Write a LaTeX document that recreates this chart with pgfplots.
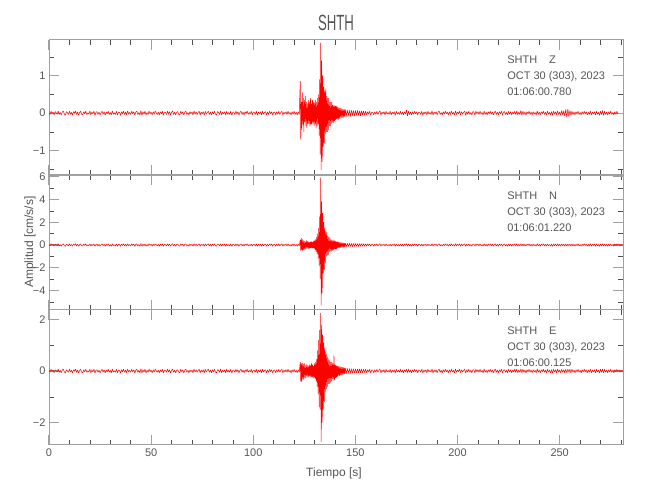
\documentclass[border=0pt]{standalone}
\usepackage{pgfplots}
\pgfplotsset{compat=1.18}
\usepackage{fontspec}
\setmainfont{Liberation Sans}
\newfontfamily\titlefont{Liberation Sans}[FakeStretch=0.6]
\definecolor{txt}{HTML}{555555}
\definecolor{frm}{HTML}{A0A0A0}
\definecolor{tk}{HTML}{505050}
\pgfplotsset{
 panel/.style={
  width=574pt,height=135pt,scale only axis,anchor=south west,
  xmin=0,xmax=281,
  axis line style={frm,line width=1pt},
  tick align=inside,
  major tick length=10pt, minor tick length=5pt,
  major tick style={frm,line width=1.2pt},
  minor tick style={tk,line width=0.5pt},
  xtick={0,50,...,250},
  minor xtick={10,20,30,40,60,70,80,90,110,120,130,140,160,170,180,190,210,220,230,240,260,270,280},
  ticklabel style={font=\fontsize{11}{13}\selectfont, text=txt},
  xticklabels={},
 },
}
\tikzset{
 trace/.style={red, line width=0.5pt, line join=bevel},
 info/.style={anchor=north west, align=left, inner sep=0pt, font=\fontsize{11}{16}\selectfont, text=txt},
}
\begin{document}
\begin{tikzpicture}
\path[use as bounding box] (0pt,0pt) rectangle (650pt,500pt);
% ---------------- Z ----------------
\begin{axis}[panel, at={(49pt,325pt)}, ymin=-1.65, ymax=1.95,
  ytick={-1,0,1}, yticklabels={−1,0,1}, minor ytick={-1.5,-0.5,0.5,1.5}]
\addplot[trace] coordinates {
(0,.02)(.5,-.04)(1,.05)(1.5,-.01)(2,.03)(2.5,-.05)(3,.04)(3.5,.01)(4,-.03)(4.5,.06)(5,-.04)(5.5,.02)(6,-.05)(6.5,.03)(7,.05)(7.5,-.02)(8,-.06)(8.5,.04)(9,.01)(9.5,-.04)(10,.05)(10.5,-.03)(11,.02)(11.5,-.05)(12,.04)(12.5,-.01)(13,.06)(13.5,-.04)(14,.03)(14.5,-.06)(15,.02)(15.5,.05)(16,-.03)(16.5,-.05)(17,.04)(17.5,-.02)(18,.05)(18.5,-.04)(19,.01)(19.5,-.03)(20,.06)(20.5,-.05)(21,.03)(21.5,-.02)(22,.05)(22.5,-.06)(23,.02)(23.5,.04)(24,-.04)(24.5,.03)(25,-.05)(25.5,.01)(26,.05)(26.5,-.03)(27,.04)(27.5,-.06)(28,.03)(28.5,-.02)(29,.05)(29.5,-.04)(30,.02)(30.5,-.05)(31,.06)(31.5,-.03)(32,.01)(32.5,-.04)(33,.05)(33.5,-.05)(34,.03)(34.5,.02)(35,-.06)(35.5,.04)(36,-.02)(36.5,.05)(37,-.04)(37.5,.03)(38,-.05)(38.5,.06)(39,-.03)(39.5,.02)(40,-.04)(40.5,.05)(41,-.02)(41.5,.04)(42,-.06)(42.5,.03)(43,.05)(43.5,-.04)(44,.02)(44.5,-.05)(45,.07)(45.5,-.06)(46,.04)(46.5,-.03)(47,.05)(47.5,-.05)(48,.02)(48.5,-.04)(49,.06)(49.5,-.02)(50,.03)(50.5,-.05)(51,.04)(51.5,-.03)(52,.05)(52.5,.01)(53,-.04)(53.5,.03)(54,-.05)(54.5,.04)(55,-.02)(55.5,.05)(56,-.06)(56.5,.03)(57,.02)(57.5,-.04)(58,.05)(58.5,-.03)(59,.04)(59.5,-.05)(60,.02)(60.5,.06)(61,-.04)(61.5,.03)(62,-.05)(62.5,.02)(63,.04)(63.5,-.03)(64,-.05)(64.5,.05)(65,-.02)(65.5,.04)(66,-.06)(66.5,.03)(67,.05)(67.5,-.04)(68,.02)(68.5,-.05)(69,.04)(69.5,-.02)(70,.03)(70.5,-.05)(71,.06)(71.5,-.03)(72,.04)(72.5,-.04)(73,.02)(73.5,.05)(74,-.05)(74.5,.03)(75,-.02)(75.5,.04)(76,-.06)(76.5,.05)(77,-.03)(77.5,.02)(78,.05)(78.5,-.04)(79,.03)(79.5,-.05)(80,.04)(80.5,-.02)(81,.05)(81.5,-.03)(82,-.05)(82.5,.04)(83,.02)(83.5,-.04)(84,.06)(84.5,-.05)(85,.03)(85.5,-.02)(86,.04)(86.5,-.05)(87,.05)(87.5,-.03)(88,.02)(88.5,-.04)(89,.05)(89.5,-.06)(90,.03)(90.5,.02)(91,-.04)(91.5,.05)(92,-.03)(92.5,.04)(93,-.05)(93.5,.02)(94,.05)(94.5,-.04)(95,.03)(95.5,-.05)(96,.04)(96.5,-.02)(97,.06)(97.5,-.04)(98,.02)(98.5,-.03)(99,.05)(99.5,-.05)(100,.03)(100.5,.02)(101,-.04)(101.5,.05)(102,-.06)(102.5,.03)(103,-.02)(103.5,.04)(104,-.05)(104.5,.05)(105,-.03)(105.5,.02)(106,.04)(106.5,-.05)(107,.03)(107.5,-.04)(108,.05)(108.5,-.02)(109,.04)(109.5,-.05)(110,.02)(110.5,.03)(111,-.05)(111.5,.04)(112,-.03)(112.5,.05)(113,-.04)(113.5,.02)(114,.05)(114.5,-.05)(115,.03)(115.5,-.02)(116,.04)(116.5,-.04)(117,.05)(117.5,-.03)(118,.02)(118.5,-.05)(119,.04)(119.5,-.03)(120,.05)(120.5,-.04)(121,.03)(121.5,-.05)(122,.04)(122.5,-.04)
(123,.85)(123.25,-.72)(123.5,.3)(123.75,-.45)(124,.55)(124.25,-.3)(124.5,.4)(124.75,-.5)(125,.35)(125.25,-.25)(125.5,.45)(125.75,-.35)(126,.3)(126.25,-.4)(126.5,.25)(126.75,-.3)(127,.35)(127.25,-.28)(127.5,.3)(127.75,-.35)(128,.4)(128.25,-.3)(128.5,.25)(128.75,-.3)(129,.35)(129.25,-.25)(129.5,.3)(129.75,-.35)(130,.28)(130.25,-.3)(130.5,.35)(130.75,-.4)(131,.3)(131.25,-.35)(131.5,.4)(131.75,-.3)(132,.5)(132.25,-.6)(132.5,.9)(132.75,-1.1)(133,1.87)(133.25,-1.52)(133.5,1.4)(133.75,-1.3)(134,1.0)(134.25,-.9)(134.5,.7)(134.75,-.8)(135,.6)(135.25,-.55)(135.5,.65)(135.75,-.5)(136,.45)(136.25,-.5)(136.5,.4)(136.75,-.45)(137,.4)(137.25,-.35)(137.5,.3)(137.75,-.35)(138,.3)(138.25,-.28)(138.5,.3)(138.75,-.25)(139,.22)(139.25,-.25)(139.5,.2)(139.75,-.22)(140,.2)(140.25,-.18)(140.5,.2)(140.75,-.15)(141,.18)(141.25,-.16)(141.5,.15)(141.75,-.17)(142,.14)(142.25,-.15)(142.5,.13)(142.75,-.12)(143,.13)(143.25,-.12)(143.5,.11)(143.75,-.12)(144,.1)(144.25,-.11)(144.5,.1)(144.75,-.09)(145,.1)(145.5,-.09)(146,.09)(146.5,-.08)(147,.08)(147.5,-.09)(148,.08)(148.5,-.07)(149,.07)(149.5,-.08)(150,.07)(150.5,-.06)(151,.07)(151.5,-.06)(152,.06)(152.5,-.07)(153,.06)(153.5,-.05)(154,.06)(154.5,-.06)(155,.05)
(155.5,-.05)(156,.04)(156.5,-.03)(157,.05)(157.5,-.06)(158,.03)(158.5,.02)(159,-.05)(159.5,.04)(160,-.03)(160.5,.05)(161,-.04)(161.5,.02)(162,.06)(162.5,-.05)(163,.03)(163.5,-.02)(164,.04)(164.5,-.05)(165,.05)(165.5,-.03)(166,.02)(166.5,-.04)(167,.05)(167.5,-.05)(168,.03)(168.5,-.02)(169,.04)(169.5,-.06)(170,.05)(170.5,-.03)(171,.02)(171.5,-.04)(172,.05)(172.5,-.04)(173,.03)(173.5,-.05)(174,.04)(174.5,-.02)(175,.08)(175.5,-.07)(176,.05)(176.5,-.04)(177,.03)(177.5,-.05)(178,.04)(178.5,-.03)(179,.05)(179.5,-.02)(180,.04)(180.5,-.05)(181,.03)(181.5,.02)(182,-.04)(182.5,.05)(183,-.06)(183.5,.03)(184,-.02)(184.5,.04)(185,-.05)(185.5,.05)(186,-.03)(186.5,.02)(187,-.04)(187.5,.06)(188,-.05)(188.5,.03)(189,-.02)(189.5,.04)(190,-.05)(190.5,.03)(191,.05)(191.5,-.04)(192,.02)(192.5,-.05)(193,.04)(193.5,-.03)(194,.05)(194.5,-.02)(195,.03)(195.5,-.05)(196,.04)(196.5,-.04)(197,.05)(197.5,-.03)(198,.02)(198.5,-.05)(199,.06)(199.5,-.04)(200,.03)(200.5,-.02)(201,.05)(201.5,-.05)(202,.04)(202.5,-.03)(203,.02)(203.5,.05)(204,-.06)(204.5,.04)(205,-.03)(205.5,.05)(206,-.04)(206.5,.02)(207,-.05)(207.5,.04)(208,.03)(208.5,-.05)(209,.05)(209.5,-.02)(210,.04)(210.5,-.04)(211,.05)(211.5,-.03)(212,.02)(212.5,-.05)(213,.06)(213.5,-.04)(214,.03)(214.5,-.05)(215,.04)(215.5,-.02)(216,.05)(216.5,-.03)(217,.04)(217.5,-.05)(218,.02)(218.5,.05)(219,-.04)(219.5,.03)(220,-.05)(220.5,.04)(221,-.02)(221.5,.05)(222,-.06)(222.5,.03)(223,.04)(223.5,-.04)(224,.02)(224.5,-.05)(225,.05)(225.5,-.03)(226,.04)(226.5,-.05)(227,.03)(227.5,-.02)(228,.05)(228.5,-.04)(229,.06)(229.5,-.05)(230,.03)(230.5,-.04)(231,.07)(231.5,-.06)(232,.05)(232.5,-.04)(233,.03)(233.5,-.05)(234,.04)(234.5,-.02)(235,.05)(235.5,-.04)(236,.03)(236.5,-.05)(237,.04)(237.5,-.03)(238,.02)(238.5,-.05)(239,.06)(239.5,-.04)(240,.03)(240.5,-.05)(241,.04)(241.5,-.02)(242,.05)(242.5,-.04)(243,.03)(243.5,-.05)(244,.05)(244.5,-.03)(245,.02)(245.5,-.05)(246,.04)(246.5,-.06)(247,.05)(247.5,-.03)(248,.04)(248.5,-.05)(249,.06)(249.5,-.04)(250,.03)(250.5,-.06)(251,.07)(251.5,-.05)(252,.06)(252.5,-.08)(253,.10)(253.5,-.12)(254,.11)(254.5,-.09)(255,.07)(255.5,-.06)(256,.05)(256.5,-.04)(257,.03)(257.5,-.05)(258,.04)(258.5,-.03)(259,.05)(259.5,-.04)(260,.02)(260.5,-.05)(261,.04)(261.5,-.03)(262,.05)(262.5,-.02)(263,.04)(263.5,-.05)(264,.03)(264.5,-.04)(265,.06)(265.5,-.05)(266,.03)(266.5,-.02)(267,.04)(267.5,-.05)(268,.05)(268.5,-.03)(269,.02)(269.5,-.06)(270,.05)(270.5,-.04)(271,.07)(271.5,-.06)(272,.05)(272.5,-.04)(273,.03)(273.5,-.05)(274,.04)(274.5,-.03)(275,.05)(275.5,-.04)(276,.02)(276.5,-.05)(277,.04)(277.5,-.03)(278,.05)(278.5,-.02)
};
\node[info] at (rel axis cs:0.798,0.885) {SHTH\hspace{12pt}Z\\OCT 30 (303), 2023\\01:06:00.780};
\end{axis}
% ---------------- N ----------------
\begin{axis}[panel, at={(49pt,190pt)}, ymin=-5.7, ymax=6.14,
  ytick={-4,-2,0,2,4,6}, yticklabels={−4,−2,0,2,4,6}, minor ytick={-5,-3,-1,1,3,5}]
\addplot[trace] coordinates {
(0,.04)(.5,-.08)(1,.10)(1.5,-.02)(2,.06)(2.5,-.10)(3,.08)(3.5,.02)(4,-.06)(4.5,.12)(5,-.08)(5.5,.04)(6,-.10)(6.5,.06)(7,.10)(7.5,-.04)(8,-.12)(8.5,.08)(9,.02)(9.5,-.08)(10,.10)(10.5,-.06)(11,.04)(11.5,-.10)(12,.08)(12.5,-.02)(13,.12)(13.5,-.08)(14,.06)(14.5,-.12)(15,.04)(15.5,.10)(16,-.06)(16.5,-.10)(17,.08)(17.5,-.04)(18,.10)(18.5,-.08)(19,.02)(19.5,-.06)(20,.12)(20.5,-.10)(21,.06)(21.5,-.04)(22,.10)(22.5,-.12)(23,.04)(23.5,.08)(24,-.08)(24.5,.06)(25,-.10)(25.5,.02)(26,.10)(26.5,-.06)(27,.08)(27.5,-.12)(28,.06)(28.5,-.04)(29,.10)(29.5,-.08)(30,.04)(30.5,-.10)(31,.12)(31.5,-.06)(32,.02)(32.5,-.08)(33,.10)(33.5,-.10)(34,.06)(34.5,.04)(35,-.12)(35.5,.08)(36,-.04)(36.5,.10)(37,-.08)(37.5,.06)(38,-.10)(38.5,.12)(39,-.06)(39.5,.04)(40,-.08)(40.5,.10)(41,-.04)(41.5,.08)(42,-.12)(42.5,.06)(43,.10)(43.5,-.08)(44,.04)(44.5,-.10)(45,.14)(45.5,-.12)(46,.08)(46.5,-.06)(47,.10)(47.5,-.10)(48,.04)(48.5,-.08)(49,.12)(49.5,-.04)(50,.06)(50.5,-.10)(51,.08)(51.5,-.06)(52,.10)(52.5,.02)(53,-.08)(53.5,.06)(54,-.10)(54.5,.08)(55,-.04)(55.5,.10)(56,-.12)(56.5,.06)(57,.04)(57.5,-.08)(58,.10)(58.5,-.06)(59,.08)(59.5,-.10)(60,.04)(60.5,.12)(61,-.08)(61.5,.06)(62,-.10)(62.5,.04)(63,.08)(63.5,-.06)(64,-.10)(64.5,.10)(65,-.04)(65.5,.08)(66,-.12)(66.5,.06)(67,.10)(67.5,-.08)(68,.04)(68.5,-.10)(69,.08)(69.5,-.04)(70,.06)(70.5,-.10)(71,.12)(71.5,-.06)(72,.08)(72.5,-.08)(73,.04)(73.5,.10)(74,-.10)(74.5,.06)(75,-.04)(75.5,.08)(76,-.12)(76.5,.10)(77,-.06)(77.5,.04)(78,.10)(78.5,-.08)(79,.06)(79.5,-.10)(80,.08)(80.5,-.04)(81,.10)(81.5,-.06)(82,-.10)(82.5,.08)(83,.04)(83.5,-.08)(84,.12)(84.5,-.10)(85,.06)(85.5,-.04)(86,.08)(86.5,-.10)(87,.10)(87.5,-.06)(88,.04)(88.5,-.08)(89,.10)(89.5,-.12)(90,.06)(90.5,.04)(91,-.08)(91.5,.10)(92,-.06)(92.5,.08)(93,-.10)(93.5,.04)(94,.10)(94.5,-.08)(95,.06)(95.5,-.10)(96,.08)(96.5,-.04)(97,.12)(97.5,-.08)(98,.04)(98.5,-.06)(99,.10)(99.5,-.10)(100,.06)(100.5,.04)(101,-.08)(101.5,.10)(102,-.12)(102.5,.06)(103,-.04)(103.5,.08)(104,-.10)(104.5,.10)(105,-.06)(105.5,.04)(106,.08)(106.5,-.10)(107,.06)(107.5,-.08)(108,.10)(108.5,-.04)(109,.08)(109.5,-.10)(110,.04)(110.5,.06)(111,-.10)(111.5,.08)(112,-.06)(112.5,.10)(113,-.08)(113.5,.04)(114,.10)(114.5,-.10)(115,.06)(115.5,-.04)(116,.08)(116.5,-.08)(117,.10)(117.5,-.06)(118,.04)(118.5,-.10)(119,.08)(119.5,-.06)(120,.10)(120.5,-.08)(121,.06)(121.5,-.10)(122,.08)(122.5,-.08)
(123,.45)(123.25,-.5)(123.5,.6)(123.75,-.45)(124,.5)(124.25,-.55)(124.5,.4)(124.75,-.45)(125,.35)(125.25,-.4)(125.5,.3)(125.75,-.35)(126,.4)(126.25,-.3)(126.5,.35)(126.75,-.3)(127,.3)(127.25,-.35)(127.5,.25)(127.75,-.3)(128,.3)(128.25,-.25)(128.5,.3)(128.75,-.28)(129,.25)(129.25,-.3)(129.5,.35)(129.75,-.3)(130,.4)(130.25,-.45)(130.5,.5)(130.75,-.6)(131,.7)(131.25,-.8)(131.5,1.0)(131.75,-1.2)(132,1.5)(132.25,-1.8)(132.5,2.5)(132.75,-3.0)(133,5.9)(133.25,-5.3)(133.5,3.8)(133.75,-4.2)(134,2.8)(134.25,-2.5)(134.5,2.0)(134.75,-2.2)(135,1.5)(135.25,-1.6)(135.5,1.2)(135.75,-1.0)(136,1.1)(136.25,-.9)(136.5,.8)(136.75,-.85)(137,.7)(137.25,-.6)(137.5,.65)(137.75,-.55)(138,.5)(138.25,-.55)(138.5,.45)(138.75,-.5)(139,.4)(139.25,-.45)(139.5,.4)(139.75,-.35)(140,.38)(140.25,-.35)(140.5,.3)(140.75,-.33)(141,.3)(141.25,-.28)(141.5,.3)(141.75,-.25)(142,.26)(142.25,-.25)(142.5,.22)(142.75,-.24)(143,.22)(143.25,-.2)(143.5,.2)(143.75,-.21)(144,.18)(144.25,-.2)(144.5,.17)(144.75,-.18)(145,.17)(145.5,-.16)(146,.16)(146.5,-.15)(147,.15)(147.5,-.14)(148,.14)(148.5,-.15)(149,.13)(149.5,-.14)(150,.13)(150.5,-.12)(151,.12)(151.5,-.13)(152,.12)(152.5,-.11)(153,.12)(153.5,-.11)(154,.11)(154.5,-.12)(155,.10)
(155.5,-.10)(156,.08)(156.5,-.06)(157,.10)(157.5,-.12)(158,.06)(158.5,.04)(159,-.10)(159.5,.08)(160,-.06)(160.5,.10)(161,-.08)(161.5,.04)(162,.12)(162.5,-.10)(163,.06)(163.5,-.04)(164,.08)(164.5,-.10)(165,.10)(165.5,-.06)(166,.04)(166.5,-.08)(167,.10)(167.5,-.10)(168,.06)(168.5,-.04)(169,.08)(169.5,-.12)(170,.10)(170.5,-.06)(171,.04)(171.5,-.08)(172,.10)(172.5,-.08)(173,.06)(173.5,-.10)(174,.08)(174.5,-.04)(175,.12)(175.5,-.10)(176,.10)(176.5,-.08)(177,.06)(177.5,-.10)(178,.08)(178.5,-.06)(179,.10)(179.5,-.04)(180,.08)(180.5,-.10)(181,.06)(181.5,.04)(182,-.08)(182.5,.10)(183,-.12)(183.5,.06)(184,-.04)(184.5,.08)(185,-.10)(185.5,.10)(186,-.06)(186.5,.04)(187,-.08)(187.5,.12)(188,-.10)(188.5,.06)(189,-.04)(189.5,.08)(190,-.10)(190.5,.06)(191,.10)(191.5,-.08)(192,.04)(192.5,-.10)(193,.08)(193.5,-.06)(194,.10)(194.5,-.04)(195,.06)(195.5,-.10)(196,.08)(196.5,-.08)(197,.10)(197.5,-.06)(198,.04)(198.5,-.10)(199,.12)(199.5,-.08)(200,.06)(200.5,-.04)(201,.10)(201.5,-.10)(202,.08)(202.5,-.06)(203,.04)(203.5,.10)(204,-.12)(204.5,.08)(205,-.06)(205.5,.10)(206,-.08)(206.5,.04)(207,-.10)(207.5,.08)(208,.06)(208.5,-.10)(209,.10)(209.5,-.04)(210,.08)(210.5,-.08)(211,.10)(211.5,-.06)(212,.04)(212.5,-.10)(213,.12)(213.5,-.08)(214,.06)(214.5,-.10)(215,.08)(215.5,-.04)(216,.10)(216.5,-.06)(217,.08)(217.5,-.10)(218,.04)(218.5,.10)(219,-.08)(219.5,.06)(220,-.10)(220.5,.08)(221,-.04)(221.5,.10)(222,-.12)(222.5,.06)(223,.08)(223.5,-.08)(224,.04)(224.5,-.10)(225,.10)(225.5,-.06)(226,.08)(226.5,-.10)(227,.06)(227.5,-.04)(228,.10)(228.5,-.08)(229,.12)(229.5,-.10)(230,.06)(230.5,-.08)(231,.12)(231.5,-.10)(232,.10)(232.5,-.08)(233,.06)(233.5,-.10)(234,.08)(234.5,-.04)(235,.10)(235.5,-.08)(236,.06)(236.5,-.10)(237,.08)(237.5,-.06)(238,.04)(238.5,-.10)(239,.12)(239.5,-.08)(240,.06)(240.5,-.10)(241,.08)(241.5,-.04)(242,.10)(242.5,-.08)(243,.06)(243.5,-.10)(244,.10)(244.5,-.06)(245,.04)(245.5,-.10)(246,.08)(246.5,-.12)(247,.10)(247.5,-.06)(248,.08)(248.5,-.10)(249,.12)(249.5,-.08)(250,.06)(250.5,-.10)(251,.10)(251.5,-.08)(252,.08)(252.5,-.10)(253,.10)(253.5,-.12)(254,.10)(254.5,-.08)(255,.10)(255.5,-.10)(256,.10)(256.5,-.08)(257,.06)(257.5,-.10)(258,.08)(258.5,-.06)(259,.10)(259.5,-.08)(260,.04)(260.5,-.10)(261,.08)(261.5,-.06)(262,.10)(262.5,-.04)(263,.08)(263.5,-.10)(264,.06)(264.5,-.08)(265,.12)(265.5,-.10)(266,.06)(266.5,-.04)(267,.08)(267.5,-.10)(268,.10)(268.5,-.06)(269,.04)(269.5,-.12)(270,.10)(270.5,-.08)(271,.12)(271.5,-.10)(272,.10)(272.5,-.08)(273,.06)(273.5,-.10)(274,.08)(274.5,-.06)(275,.10)(275.5,-.08)(276,.04)(276.5,-.10)(277,.08)(277.5,-.06)(278,.10)(278.5,-.04)(279,.08)(279.5,-.08)(280,.06)(280.5,-.06)(281,.04)
};
\node[info] at (rel axis cs:0.798,0.875) {SHTH\hspace{12pt}N\\OCT 30 (303), 2023\\01:06:01.220};
\end{axis}
% ---------------- E ----------------
\begin{axis}[panel, at={(49pt,55pt)}, ymin=-2.87, ymax=2.37,
  ytick={-2,0,2}, yticklabels={−2,0,2}, minor ytick={-1,1},
  xticklabels={0,50,100,150,200,250}]
\addplot[trace] coordinates {
(0,.03)(.5,-.05)(1,.07)(1.5,-.01)(2,.04)(2.5,-.07)(3,.05)(3.5,.01)(4,-.04)(4.5,.08)(5,-.05)(5.5,.03)(6,-.07)(6.5,.04)(7,.07)(7.5,-.03)(8,-.08)(8.5,.05)(9,.01)(9.5,-.05)(10,.07)(10.5,-.04)(11,.03)(11.5,-.07)(12,.05)(12.5,-.01)(13,.08)(13.5,-.05)(14,.04)(14.5,-.08)(15,.03)(15.5,.07)(16,-.04)(16.5,-.07)(17,.05)(17.5,-.03)(18,.07)(18.5,-.05)(19,.01)(19.5,-.04)(20,.08)(20.5,-.07)(21,.04)(21.5,-.03)(22,.07)(22.5,-.08)(23,.03)(23.5,.05)(24,-.05)(24.5,.04)(25,-.07)(25.5,.01)(26,.07)(26.5,-.04)(27,.05)(27.5,-.08)(28,.04)(28.5,-.03)(29,.07)(29.5,-.05)(30,.03)(30.5,-.07)(31,.08)(31.5,-.04)(32,.01)(32.5,-.05)(33,.07)(33.5,-.07)(34,.04)(34.5,.03)(35,-.08)(35.5,.05)(36,-.03)(36.5,.07)(37,-.05)(37.5,.04)(38,-.07)(38.5,.08)(39,-.04)(39.5,.03)(40,-.05)(40.5,.07)(41,-.03)(41.5,.05)(42,-.08)(42.5,.04)(43,.07)(43.5,-.05)(44,.03)(44.5,-.07)(45,.09)(45.5,-.08)(46,.05)(46.5,-.04)(47,.07)(47.5,-.07)(48,.03)(48.5,-.05)(49,.08)(49.5,-.03)(50,.04)(50.5,-.07)(51,.05)(51.5,-.04)(52,.07)(52.5,.01)(53,-.05)(53.5,.04)(54,-.07)(54.5,.05)(55,-.03)(55.5,.07)(56,-.08)(56.5,.04)(57,.03)(57.5,-.05)(58,.07)(58.5,-.04)(59,.05)(59.5,-.07)(60,.03)(60.5,.08)(61,-.05)(61.5,.04)(62,-.07)(62.5,.03)(63,.05)(63.5,-.04)(64,-.07)(64.5,.07)(65,-.03)(65.5,.05)(66,-.08)(66.5,.04)(67,.07)(67.5,-.05)(68,.03)(68.5,-.07)(69,.05)(69.5,-.03)(70,.04)(70.5,-.07)(71,.08)(71.5,-.04)(72,.05)(72.5,-.05)(73,.03)(73.5,.07)(74,-.07)(74.5,.04)(75,-.03)(75.5,.05)(76,-.08)(76.5,.07)(77,-.04)(77.5,.03)(78,.07)(78.5,-.05)(79,.04)(79.5,-.07)(80,.05)(80.5,-.03)(81,.07)(81.5,-.04)(82,-.07)(82.5,.05)(83,.03)(83.5,-.05)(84,.08)(84.5,-.07)(85,.04)(85.5,-.03)(86,.05)(86.5,-.07)(87,.07)(87.5,-.04)(88,.03)(88.5,-.05)(89,.07)(89.5,-.08)(90,.04)(90.5,.03)(91,-.05)(91.5,.07)(92,-.04)(92.5,.05)(93,-.07)(93.5,.03)(94,.07)(94.5,-.05)(95,.04)(95.5,-.07)(96,.05)(96.5,-.03)(97,.08)(97.5,-.05)(98,.03)(98.5,-.04)(99,.07)(99.5,-.07)(100,.04)(100.5,.03)(101,-.05)(101.5,.07)(102,-.08)(102.5,.04)(103,-.03)(103.5,.05)(104,-.07)(104.5,.07)(105,-.04)(105.5,.03)(106,.05)(106.5,-.07)(107,.04)(107.5,-.05)(108,.07)(108.5,-.03)(109,.05)(109.5,-.07)(110,.03)(110.5,.04)(111,-.07)(111.5,.05)(112,-.04)(112.5,.07)(113,-.05)(113.5,.03)(114,.07)(114.5,-.07)(115,.04)(115.5,-.03)(116,.05)(116.5,-.05)(117,.07)(117.5,-.04)(118,.03)(118.5,-.07)(119,.05)(119.5,-.04)(120,.07)(120.5,-.05)(121,.04)(121.5,-.07)(122,.05)(122.5,-.05)
(123,.35)(123.25,-.4)(123.5,.3)(123.75,-.43)(124,.32)(124.25,-.3)(124.5,.28)(124.75,-.35)(125,.3)(125.25,-.25)(125.5,.22)(125.75,-.28)(126,.25)(126.25,-.2)(126.5,.22)(126.75,-.25)(127,.2)(127.25,-.22)(127.5,.25)(127.75,-.2)(128,.22)(128.25,-.25)(128.5,.3)(128.75,-.22)(129,.25)(129.25,-.28)(129.5,.2)(129.75,-.25)(130,.3)(130.25,-.3)(130.5,.35)(130.75,-.4)(131,.45)(131.25,-.6)(131.5,.8)(131.75,-.9)(132,1.2)(132.25,-1.4)(132.5,1.6)(132.75,-1.5)(133,2.25)(133.25,-2.75)(133.5,1.8)(133.75,-2.0)(134,1.4)(134.25,-1.5)(134.5,1.1)(134.75,-1.2)(135,.9)(135.25,-.8)(135.5,.75)(135.75,-.7)(136,.65)(136.25,-.6)(136.5,.55)(136.75,-.5)(137,.45)(137.25,-.5)(137.5,.4)(137.75,-.45)(138,.35)(138.25,-.4)(138.5,.35)(138.75,-.3)(139,.3)(139.25,-.32)(139.5,.6)(139.75,-.35)(140,.25)(140.25,-.26)(140.5,.22)(140.75,-.24)(141,.2)(141.25,-.22)(141.5,.2)(141.75,-.18)(142,.18)(142.25,-.2)(142.5,.17)(142.75,-.16)(143,.16)(143.25,-.15)(143.5,.15)(143.75,-.14)(144,.14)(144.25,-.13)(144.5,.13)(144.75,-.12)(145,.12)(145.5,-.11)(146,.11)(146.5,-.1)(147,.1)(147.5,-.1)(148,.09)(148.5,-.09)(149,.09)(149.5,-.08)(150,.08)(150.5,-.08)(151,.08)(151.5,-.07)(152,.08)(152.5,-.07)(153,.07)(153.5,-.07)(154,.07)(154.5,-.06)(155,.07)
(155.5,-.07)(156,.05)(156.5,-.04)(157,.07)(157.5,-.08)(158,.04)(158.5,.03)(159,-.07)(159.5,.05)(160,-.04)(160.5,.07)(161,-.05)(161.5,.03)(162,.08)(162.5,-.07)(163,.04)(163.5,-.03)(164,.05)(164.5,-.07)(165,.07)(165.5,-.04)(166,.03)(166.5,-.05)(167,.07)(167.5,-.07)(168,.04)(168.5,-.03)(169,.05)(169.5,-.08)(170,.07)(170.5,-.04)(171,.03)(171.5,-.05)(172,.07)(172.5,-.05)(173,.04)(173.5,-.07)(174,.05)(174.5,-.03)(175,.07)(175.5,-.06)(176,.07)(176.5,-.05)(177,.04)(177.5,-.07)(178,.05)(178.5,-.04)(179,.07)(179.5,-.03)(180,.05)(180.5,-.07)(181,.04)(181.5,.03)(182,-.05)(182.5,.07)(183,-.08)(183.5,.04)(184,-.03)(184.5,.05)(185,-.07)(185.5,.07)(186,-.04)(186.5,.03)(187,-.05)(187.5,.08)(188,-.07)(188.5,.04)(189,-.03)(189.5,.05)(190,-.07)(190.5,.04)(191,.07)(191.5,-.05)(192,.03)(192.5,-.07)(193,.05)(193.5,-.04)(194,.07)(194.5,-.03)(195,.04)(195.5,-.07)(196,.05)(196.5,-.05)(197,.07)(197.5,-.04)(198,.03)(198.5,-.07)(199,.08)(199.5,-.05)(200,.04)(200.5,-.03)(201,.07)(201.5,-.07)(202,.05)(202.5,-.04)(203,.03)(203.5,.07)(204,-.08)(204.5,.05)(205,-.04)(205.5,.07)(206,-.05)(206.5,.03)(207,-.07)(207.5,.05)(208,.04)(208.5,-.07)(209,.07)(209.5,-.03)(210,.05)(210.5,-.05)(211,.07)(211.5,-.04)(212,.03)(212.5,-.07)(213,.08)(213.5,-.05)(214,.04)(214.5,-.07)(215,.05)(215.5,-.03)(216,.07)(216.5,-.04)(217,.05)(217.5,-.07)(218,.03)(218.5,.07)(219,-.05)(219.5,.04)(220,-.07)(220.5,.05)(221,-.03)(221.5,.07)(222,-.08)(222.5,.04)(223,.05)(223.5,-.05)(224,.03)(224.5,-.07)(225,.07)(225.5,-.04)(226,.05)(226.5,-.07)(227,.04)(227.5,-.03)(228,.07)(228.5,-.05)(229,.08)(229.5,-.07)(230,.04)(230.5,-.05)(231,.08)(231.5,-.07)(232,.07)(232.5,-.05)(233,.04)(233.5,-.07)(234,.05)(234.5,-.03)(235,.07)(235.5,-.05)(236,.04)(236.5,-.07)(237,.05)(237.5,-.04)(238,.03)(238.5,-.07)(239,.08)(239.5,-.05)(240,.04)(240.5,-.07)(241,.05)(241.5,-.03)(242,.07)(242.5,-.05)(243,.04)(243.5,-.07)(244,.07)(244.5,-.04)(245,.03)(245.5,-.07)(246,.05)(246.5,-.08)(247,.07)(247.5,-.04)(248,.05)(248.5,-.07)(249,.08)(249.5,-.05)(250,.04)(250.5,-.07)(251,.07)(251.5,-.05)(252,.05)(252.5,-.07)(253,.07)(253.5,-.08)(254,.07)(254.5,-.05)(255,.07)(255.5,-.07)(256,.07)(256.5,-.05)(257,.04)(257.5,-.07)(258,.05)(258.5,-.04)(259,.07)(259.5,-.05)(260,.03)(260.5,-.07)(261,.05)(261.5,-.04)(262,.07)(262.5,-.03)(263,.05)(263.5,-.07)(264,.04)(264.5,-.05)(265,.08)(265.5,-.07)(266,.04)(266.5,-.03)(267,.05)(267.5,-.07)(268,.07)(268.5,-.04)(269,.03)(269.5,-.08)(270,.07)(270.5,-.05)(271,.08)(271.5,-.07)(272,.07)(272.5,-.05)(273,.04)(273.5,-.07)(274,.05)(274.5,-.04)(275,.07)(275.5,-.05)(276,.03)(276.5,-.07)(277,.05)(277.5,-.04)(278,.07)(278.5,-.03)(279,.05)(279.5,-.05)(280,.04)(280.5,-.04)(281,.03)
};
\node[info] at (rel axis cs:0.798,0.88) {SHTH\hspace{12pt}E\\OCT 30 (303), 2023\\01:06:00.125};
\end{axis}
% ---------------- titles ----------------
\node[text=txt, font=\titlefont\fontsize{22}{24}\selectfont] at (336pt,477pt) {SHTH};
\node[text=txt, font=\fontsize{12}{14}\selectfont] at (334pt,27pt) {Tiempo [s]};
\node[text=txt, font=\fontsize{12}{14}\selectfont, rotate=90] at (30pt,258pt) {Amplitud [cm/s/s]};
\end{tikzpicture}
\end{document}
